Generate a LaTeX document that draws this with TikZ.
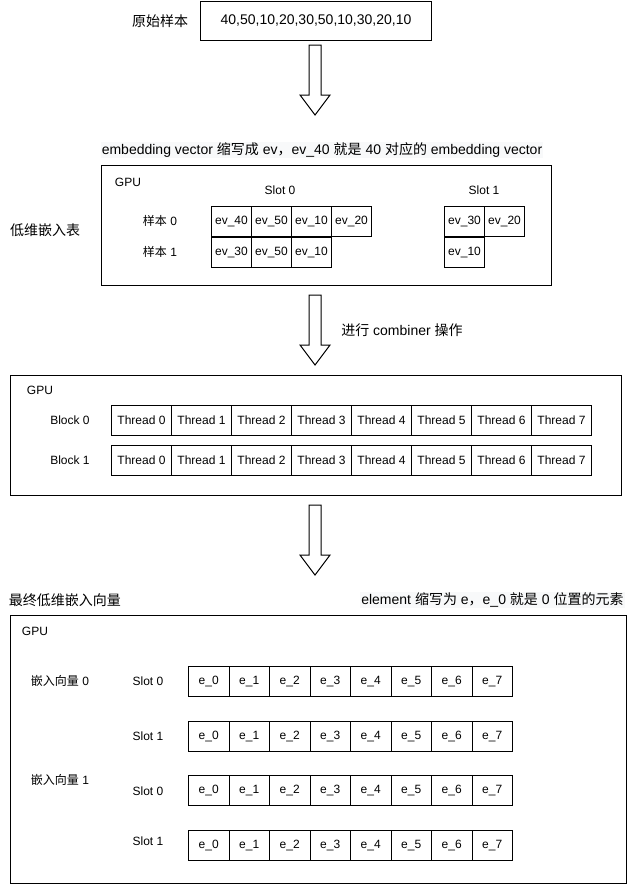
\documentclass[tikz,border=0pt]{standalone}
\usepackage{fontspec}
\setmainfont{Liberation Sans}
\newfontfamily\cjk{Noto Sans CJK SC}
\definecolor{notebg}{HTML}{F8F9FA}
\begin{document}
\begin{tikzpicture}[x=1pt,y=-1pt,
  font=\fontsize{12}{14}\selectfont,
  line width=1pt,
  lbl/.style={inner sep=0pt},
  biglbl/.style={inner sep=0pt, font=\fontsize{14}{16}\selectfont},
  cellbox/.style={draw, inner sep=0pt, minimum height=30pt, anchor=north west},
  evcell/.style={cellbox, minimum width=40pt},
  thcell/.style={cellbox, minimum width=60pt},
  ecell/.style={cellbox, minimum width=40.5pt},
  framebox/.style={draw, inner sep=0pt, anchor=north west},
  blockarrow/.pic={\draw[line width=1pt, fill=white] (-6,0) -- (-6,50) -- (-15,50) -- (0,70) -- (15,50) -- (6,50) -- (6,0) -- cycle;}
]
\useasboundingbox (0,0) rectangle (637,886);

% top: raw sample
\node[biglbl] (rawlbl) at (160,21) {\cjk 原始样本};
\node[framebox, minimum width=231pt, minimum height=39pt] (raw) at (200,1) {};
\node[biglbl] (rawtxt) at (raw.center) {40,50,10,20,30,50,10,30,20,10};
\pic at (315,45) {blockarrow};

% embedding table
\node[biglbl, fill=notebg, inner sep=1pt] (note1) at (322,150) {embedding vector {\cjk 缩写成} ev{\cjk ，}ev\_40 {\cjk 就是} 40 {\cjk 对应的} embedding vector};
\node[framebox, minimum width=450pt, minimum height=120pt] (gpu1) at (101,165) {};
\node[lbl] (gpu1lbl) at (128,182) {GPU};
\node[lbl] (slotA) at (280,190) {Slot 0};
\node[lbl] (slotB) at (484,190) {Slot 1};
\node[lbl] (samp0) at (160,221) {{\cjk 样本} 0};
\node[lbl] (samp1) at (160,252) {{\cjk 样本} 1};
\node[biglbl] (tbllbl) at (45,230) {\cjk 低维嵌入表};
\foreach \v [count=\i from 0] in {40,50,10,20}
  \node[evcell] (ra\i) at (211+40*\i,206) {ev\_\v};
\foreach \v [count=\i from 0] in {30,50,10}
  \node[evcell] (rb\i) at (211+40*\i,237) {ev\_\v};
\foreach \v [count=\i from 0] in {30,20}
  \node[evcell] (sa\i) at (444+40*\i,206) {ev\_\v};
\node[evcell] (sb0) at (444,237) {ev\_10};

\pic at (315,295) {blockarrow};
\node[biglbl] (comb) at (402,330) {{\cjk 进行} combiner {\cjk 操作}};

% threads
\node[framebox, minimum width=611pt, minimum height=120pt] (gpu2) at (10,375) {};
\node[lbl] (gpu2lbl) at (40,390) {GPU};
\node[lbl] (blk0) at (70,420) {Block 0};
\node[lbl] (blk1) at (70,460) {Block 1};
\foreach \i in {0,...,7}{
  \node[thcell] (ta\i) at (111+60*\i,405) {Thread \i};
  \node[thcell] (tb\i) at (111+60*\i,445) {Thread \i};
}

\pic at (315,505) {blockarrow};

% final vectors
\node[biglbl] (finlbl) at (65,600) {\cjk 最终低维嵌入向量};
\node[biglbl, fill=notebg, inner sep=1pt, anchor=east] (note2) at (625,600) {element {\cjk 缩写为} e{\cjk ，}e\_0 {\cjk 就是} 0 {\cjk 位置的元素}};
\node[framebox, minimum width=616pt, minimum height=268pt] (gpu3) at (10,615) {};
\node[lbl] (gpu3lbl) at (35,631) {GPU};
\node[lbl] (vec0) at (60,681) {{\cjk 嵌入向量} 0};
\node[lbl] (vec1) at (60,780) {{\cjk 嵌入向量} 1};
\node[lbl] (s1) at (148,681) {Slot 0};
\node[lbl] (s2) at (148,736) {Slot 1};
\node[lbl] (s3) at (148,791) {Slot 0};
\node[lbl] (s4) at (148,841) {Slot 1};
\foreach \r/\y in {a/666,b/721,c/775,d/830}
  \foreach \i in {0,...,7}
    \node[ecell] (e\r\i) at (188+40.5*\i,\y) {e\_\i};
\end{tikzpicture}
\end{document}
